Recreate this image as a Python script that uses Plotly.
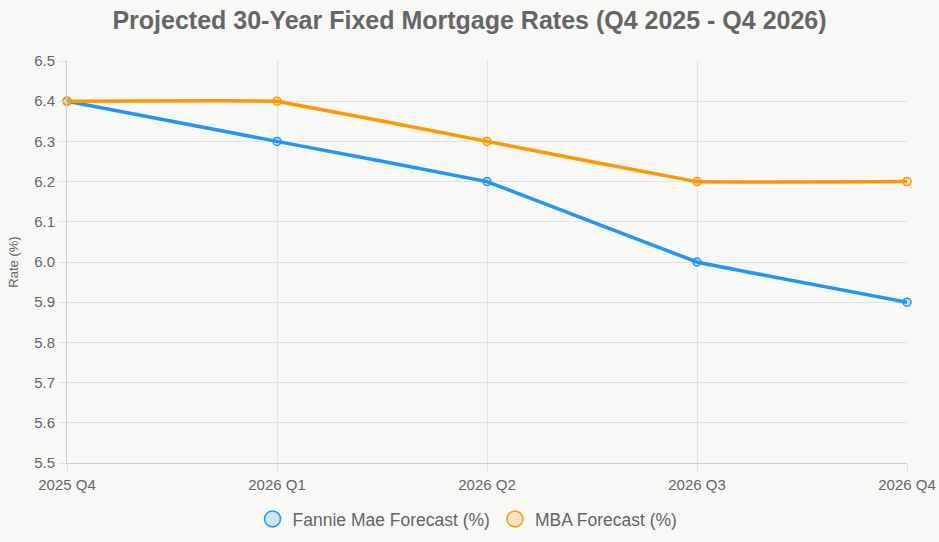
import plotly.graph_objects as go

quarters = ["2025 Q4", "2026 Q1", "2026 Q2", "2026 Q3", "2026 Q4"]
fannie_mae = [6.4, 6.3, 6.2, 6.0, 5.9]
mba = [6.4, 6.4, 6.3, 6.2, 6.2]
y_ticks = [5.5, 5.6, 5.7, 5.8, 5.9, 6.0, 6.1, 6.2, 6.3, 6.4, 6.5]

BLUE = "#2196F3"
ORANGE = "#FF9800"
BLUE_FILL = "rgba(33,150,243,0.2)"
ORANGE_FILL = "rgba(255,152,0,0.2)"
TEXT = "#666666"
GRID = "#e2e2e2"
FONT = "Liberation Sans, Arial, Helvetica, sans-serif"

fig = go.Figure()

series = [
    ("Fannie Mae Forecast (%)", fannie_mae, BLUE, BLUE_FILL),
    ("MBA Forecast (%)", mba, ORANGE, ORANGE_FILL),
]

for name, vals, col, fill in series:
    fig.add_trace(go.Scatter(
        x=quarters, y=vals, name=name, mode="lines+markers",
        line=dict(color=col, width=3.5, shape="spline", smoothing=0.1),
        marker=dict(size=8, color=fill, line=dict(color=col, width=1.5)),
        showlegend=False,
        cliponaxis=False,
    ))

for name, vals, col, fill in series:
    fig.add_trace(go.Scatter(
        x=[None], y=[None], name=name, mode="markers",
        marker=dict(size=17, color=fill, line=dict(color=col, width=1.5)),
        showlegend=True,
    ))

fig.update_layout(
    width=939, height=542,
    paper_bgcolor="#f8f8f7", plot_bgcolor="#f8f8f7",
    margin=dict(l=67, r=32, t=61, b=79),
    font=dict(family=FONT, color=TEXT, size=15),
    title=dict(
        text="<b>Projected 30-Year Fixed Mortgage Rates (Q4 2025 - Q4 2026)</b>",
        x=0.5, xanchor="center", y=1 - 20 / 542, yanchor="middle",
        yref="container",
        font=dict(size=25, color=TEXT, family=FONT),
    ),
    legend=dict(
        orientation="h", x=0.4768, xanchor="center",
        y=1 - 519 / 542, yanchor="middle", yref="container",
        font=dict(size=17.5, color=TEXT), bgcolor="rgba(0,0,0,0)",
        itemsizing="trace",
    ),
    xaxis=dict(
        type="category", range=[0, len(quarters) - 1],
        showgrid=True, gridcolor=GRID, gridwidth=1,
        showline=True, linecolor="#cccccc", linewidth=1,
        ticks="outside", ticklen=8, tickcolor=GRID,
        tickfont=dict(size=15, color=TEXT), zeroline=False,
        automargin=False,
    ),
    yaxis=dict(
        range=[5.5, 6.5], tickvals=y_ticks,
        ticktext=[f"{v:.1f}" for v in y_ticks],
        showgrid=True, gridcolor=GRID, gridwidth=1,
        showline=True, linecolor="#cccccc", linewidth=1,
        ticks="outside", ticklen=8, tickcolor=GRID,
        tickfont=dict(size=15, color=TEXT), zeroline=False,
        automargin=False,
        title=dict(text="Rate (%)", font=dict(size=13, color=TEXT), standoff=12),
    ),
)

fig.write_html(
    "out.html",
    config={"displayModeBar": False},
    post_script=(
        "document.documentElement.style.margin='0';"
        "document.documentElement.style.padding='0';"
        "document.documentElement.style.overflow='hidden';"
        "document.body.style.margin='0';"
        "document.body.style.padding='0';"
        "document.body.style.overflow='hidden';"
    ),
)
